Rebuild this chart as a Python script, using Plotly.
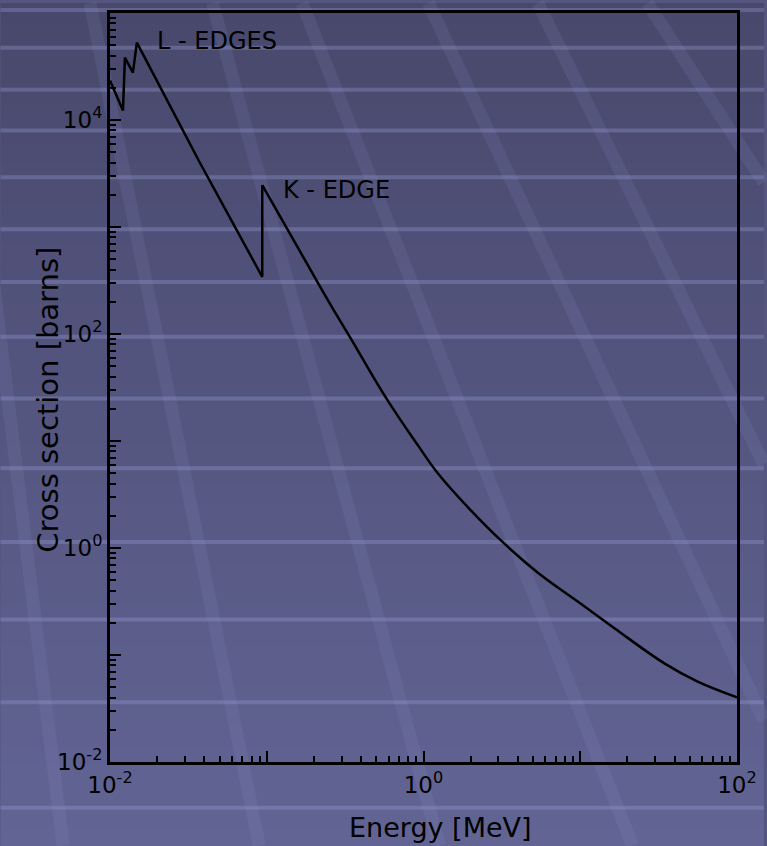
import plotly.graph_objects as go

# ---- data ----
# low-energy part with the L edges and the K edge jump
energy_edges = [0.0100, 0.0121, 0.01245, 0.0140, 0.01484, 0.0373, 0.0936, 0.0936]
sigma_edges = [2.34e4, 1.23e4, 3.83e4, 2.77e4, 5.28e4, 4.03e3, 342, 2460]

# smooth part above the K edge
energy_smooth = [0.0936, 0.178, 0.249, 0.344, 0.574, 0.929, 1.245, 2.02, 3.13, 5.37,
                 9.64, 16.6, 34.4, 55.7, 100]
sigma_smooth = [2460, 472, 200, 90.6, 25.6, 8.95, 4.91, 2.22, 1.17, 0.588,
                0.316, 0.177, 0.0836, 0.0568, 0.0403]

x_major = [1e-2, 1e-1, 1e0, 1e1, 1e2]
x_major_text = ["10<sup>-2</sup>", "", "10<sup>0</sup>", "", "10<sup>2</sup>"]
y_major = [1e-2, 1e-1, 1e0, 1e1, 1e2, 1e3, 1e4, 1e5]
y_major_text = ["10<sup>-2</sup>", "", "10<sup>0</sup>", "", "10<sup>2</sup>", "", "10<sup>4</sup>", ""]

W, H = 767, 846
ML, MR, MT, MB = 110, 27, 10, 84
PW, PH = W - ML - MR, H - MT - MB


def px(x):
    return (x - ML) / PW


def py(y):
    return (H - MB - y) / PH


def minor_vals(lo, hi):
    out = []
    for e in range(lo, hi):
        for m in range(2, 10):
            out.append(m * 10.0 ** e)
    return out


FONT = "DejaVu Sans, Liberation Sans, sans-serif"

fig = go.Figure()
fig.add_trace(go.Scatter(x=energy_edges, y=sigma_edges, mode="lines",
                         line=dict(color="black", width=2.5), showlegend=False,
                         hoverinfo="skip"))
fig.add_trace(go.Scatter(x=energy_smooth, y=sigma_smooth, mode="lines",
                         line=dict(color="black", width=2.5, shape="spline", smoothing=1.1),
                         showlegend=False, hoverinfo="skip"))

# ---- background decoration (gradient, bands, diagonal stripes) ----
shapes = []
top_c = (72, 72, 108)
bot_c = (98, 100, 148)
N = 42
for i in range(N):
    t = (i + 0.5) / N
    c = tuple(int(round(top_c[k] + (bot_c[k] - top_c[k]) * t)) for k in range(3))
    y0 = H * i / N
    y1 = H * (i + 1) / N + 1
    shapes.append(dict(type="rect", xref="paper", yref="paper", layer="below",
                       x0=px(0), x1=px(W), y0=py(y0), y1=py(y1),
                       fillcolor="rgb(%d,%d,%d)" % c, line=dict(width=0)))

band_rows = [7, 45, 87, 128, 175, 227, 280, 335, 397, 467, 541, 619, 702, 808]
for r in band_rows:
    shapes.append(dict(type="line", xref="paper", yref="paper", layer="below",
                       x0=px(0), x1=px(W), y0=py(r), y1=py(r),
                       line=dict(color="rgba(150,155,210,0.35)", width=4)))

stripes = [(-42, 0, 63, 846), (90, 0, 260, 846), (213, 0, 441, 846),
           (303, 0, 635, 846), (430, 0, 767, 720), (540, 0, 767, 463),
           (650, 0, 767, 180)]
for (x0, y0, x1, y1) in stripes:
    shapes.append(dict(type="line", xref="paper", yref="paper", layer="below",
                       x0=px(x0), y0=py(y0), x1=px(x1), y1=py(y1),
                       line=dict(color="rgba(150,155,215,0.12)", width=13)))

fig.update_layout(
    width=W, height=H,
    margin=dict(l=ML, r=MR, t=MT, b=MB),
    paper_bgcolor="rgb(85,86,128)",
    plot_bgcolor="rgba(0,0,0,0)",
    shapes=shapes,
    font=dict(family=FONT, color="black"),
    showlegend=False,
)

axis_common = dict(type="log", showgrid=False, zeroline=False,
                   showline=True, linecolor="black", linewidth=3, mirror=True,
                   ticks="inside", tickcolor="black", tickwidth=2, ticklen=11,
                   tickfont=dict(family=FONT, size=23, color="black"))

fig.update_xaxes(range=[-2, 2], tickmode="array", tickvals=x_major, ticktext=x_major_text,
                 minor=dict(ticks="inside", tickmode="array", tickvals=minor_vals(-2, 2),
                            ticklen=6, tickwidth=2, tickcolor="black"),
                 **axis_common)
fig.update_yaxes(range=[-2, 5], tickmode="array", tickvals=y_major, ticktext=y_major_text,
                 minor=dict(ticks="inside", tickmode="array", tickvals=minor_vals(-2, 5),
                            ticklen=6, tickwidth=2, tickcolor="black"),
                 **axis_common)

annotations = [
    dict(text="L - EDGES", x=px(155), y=py(38), xref="paper", yref="paper",
         xanchor="left", yanchor="middle", showarrow=False,
         font=dict(family=FONT, size=24, color="black")),
    dict(text="K - EDGE", x=px(282), y=py(188), xref="paper", yref="paper",
         xanchor="left", yanchor="middle", showarrow=False,
         font=dict(family=FONT, size=24, color="black")),
    dict(text="Energy [MeV]", x=px(442), y=py(828), xref="paper", yref="paper",
         xanchor="center", yanchor="middle", showarrow=False,
         font=dict(family=FONT, size=27, color="black")),
    dict(text="Cross section [barns]", x=px(48), y=py(398), xref="paper", yref="paper",
         xanchor="center", yanchor="middle", showarrow=False, textangle=-90,
         font=dict(family=FONT, size=29, color="black")),
]
fig.update_layout(annotations=annotations)

fig.write_html("out.html", config={"displayModeBar": False},
               post_script="document.body.style.margin='0';document.body.style.overflow='hidden';")
